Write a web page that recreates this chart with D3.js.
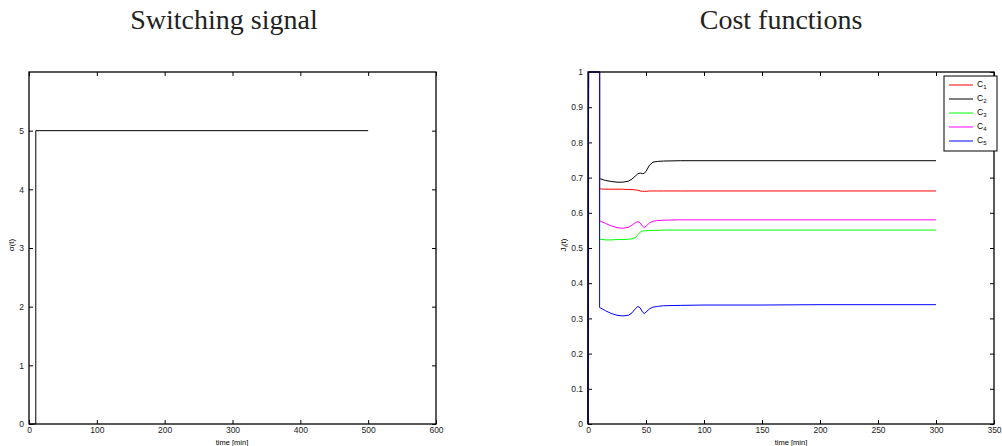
<!DOCTYPE html>
<html>
<head>
<meta charset="utf-8">
<script src="https://cdn.jsdelivr.net/npm/d3@7"></script>
<style>
  body { margin: 0; background: #fff; }
  svg { display: block; }
  .tick text { font-family: "Liberation Sans", Arial, sans-serif; font-size: 8.5px; fill: #222; }
</style>
</head>
<body>
<div id="chart"></div>
<script>
// switching signal
const sigTime = [0, 10, 10, 500];
const sigValue = [0, 0, 5, 5];
const sigXTicks = [0, 100, 200, 300, 400, 500, 600];
const sigYTicks = [0, 1, 2, 3, 4, 5];

// cost functions, shared time grid
const costTime = [0, 0.5, 10, 10, 15, 20, 25, 30, 35, 38, 41, 43, 45, 47, 48.5, 50, 53, 56, 60, 65, 80, 100, 150, 200, 300];
const c1 = [0, 1, 1, 0.668, 0.667, 0.667, 0.667, 0.667, 0.666, 0.666, 0.665, 0.664, 0.662, 0.661, 0.661, 0.661, 0.662, 0.662, 0.662, 0.662, 0.662, 0.662, 0.662, 0.662, 0.662];
const c2 = [0, 1, 1, 0.697, 0.692, 0.689, 0.687, 0.687, 0.690, 0.696, 0.705, 0.711, 0.713, 0.711, 0.712, 0.718, 0.735, 0.744, 0.746, 0.747, 0.748, 0.748, 0.748, 0.748, 0.748];
const c3 = [0, 1, 1, 0.525, 0.523, 0.523, 0.524, 0.524, 0.525, 0.526, 0.530, 0.538, 0.545, 0.548, 0.549, 0.549, 0.550, 0.550, 0.550, 0.551, 0.551, 0.551, 0.551, 0.551, 0.551];
const c4 = [0, 1, 1, 0.577, 0.570, 0.563, 0.558, 0.556, 0.559, 0.565, 0.572, 0.575, 0.571, 0.562, 0.558, 0.562, 0.571, 0.576, 0.578, 0.579, 0.580, 0.580, 0.580, 0.580, 0.580];
const c5 = [0, 1, 1, 0.331, 0.322, 0.314, 0.309, 0.307, 0.309, 0.316, 0.328, 0.334, 0.330, 0.318, 0.314, 0.318, 0.327, 0.332, 0.334, 0.336, 0.337, 0.338, 0.338, 0.339, 0.339];
const costNames = ["1", "2", "3", "4", "5"];
const costColors = ["#ff0000", "#000000", "#00ff00", "#ff00ff", "#0000ff"];
const costXTicks = [0, 50, 100, 150, 200, 250, 300, 350];
const costYTicks = [0, 0.1, 0.2, 0.3, 0.4, 0.5, 0.6, 0.7, 0.8, 0.9, 1];

const W = 1002, H = 446;
const svg = d3.select("#chart").append("svg").attr("width", W).attr("height", H);

// draws a matlab style box with inward ticks on all 4 sides
function panel(x0, x1, y0, y1, xDom, yDom, xTicks, yTicks, yFmt) {
  const x = d3.scaleLinear().domain(xDom).range([x0, x1]);
  const y = d3.scaleLinear().domain(yDom).range([y1, y0]);
  const g = svg.append("g");

  g.append("g").attr("transform", `translate(0,${y1})`)
    .call(d3.axisBottom(x).tickValues(xTicks).tickSizeInner(-4).tickSizeOuter(0).tickPadding(3).tickFormat(d3.format("d")))
    .call(a => a.select(".domain").remove());
  g.append("g").attr("transform", `translate(0,${y0})`)
    .call(d3.axisTop(x).tickValues(xTicks).tickSizeInner(-4).tickSizeOuter(0).tickFormat(""))
    .call(a => a.select(".domain").remove());
  g.append("g").attr("transform", `translate(${x0},0)`)
    .call(d3.axisLeft(y).tickValues(yTicks).tickSizeInner(-4).tickSizeOuter(0).tickPadding(5).tickFormat(yFmt))
    .call(a => a.select(".domain").remove());
  g.append("g").attr("transform", `translate(${x1},0)`)
    .call(d3.axisRight(y).tickValues(yTicks).tickSizeInner(-4).tickSizeOuter(0).tickFormat(""))
    .call(a => a.select(".domain").remove());
  g.selectAll(".tick line").attr("stroke", "#000");

  return {x, y, g};
}

function frame(x0, x1, y0, y1) {
  svg.append("rect")
    .attr("x", x0).attr("y", y0).attr("width", x1 - x0).attr("height", y1 - y0)
    .attr("fill", "none").attr("stroke", "#000").attr("stroke-width", 1.3);
}

function title(text, cx) {
  svg.append("text").attr("x", cx).attr("y", 29)
    .attr("text-anchor", "middle")
    .style("font-family", "'Liberation Serif', 'DejaVu Serif', serif")
    .style("font-size", "28px").attr("fill", "#222")
    .text(text);
}

const labelFont = "'Liberation Sans', Arial, sans-serif";

// ---- left: switching signal
const L = panel(29, 436, 72, 424, [0, 600], [0, 6], sigXTicks, sigYTicks, d3.format("d"));
L.g.append("path")
  .datum(sigTime.map((t, i) => [t, sigValue[i]]))
  .attr("fill", "none").attr("stroke", "#000").attr("stroke-width", 1)
  .attr("d", d3.line().x(d => L.x(d[0])).y(d => L.y(d[1])));
frame(29, 436, 72, 424);
title("Switching signal", 224);
svg.append("text").attr("x", 232).attr("y", 445).attr("text-anchor", "middle")
  .style("font-family", labelFont).style("font-size", "7.5px").text("time [min]");
svg.append("text").attr("transform", "translate(14,245) rotate(-90)").attr("text-anchor", "middle")
  .style("font-family", labelFont).style("font-size", "8px").text("σ(t)");

// ---- right: cost functions
const R = panel(588, 994, 72, 424, [0, 350], [0, 1], costXTicks, costYTicks, d => d === 0 || d === 1 ? d3.format("d")(d) : d3.format(".1f")(d));
const series = [c1, c2, c3, c4, c5];
const line = d3.line().x(d => R.x(d[0])).y(d => R.y(d[1]));
series.forEach((vals, k) => {
  R.g.append("path")
    .datum(costTime.map((t, i) => [t, vals[i]]))
    .attr("fill", "none").attr("stroke", costColors[k]).attr("stroke-width", 1)
    .attr("d", line);
});
frame(588, 994, 72, 424);
title("Cost functions", 781);
svg.append("text").attr("x", 791).attr("y", 445).attr("text-anchor", "middle")
  .style("font-family", labelFont).style("font-size", "7.5px").text("time [min]");
const jl = svg.append("text").attr("transform", "translate(566,245) rotate(-90)").attr("text-anchor", "middle")
  .style("font-family", labelFont).style("font-size", "8px");
jl.append("tspan").text("J");
jl.append("tspan").attr("dy", 2).style("font-size", "6px").text("i");
jl.append("tspan").attr("dy", -2).text("(t)");

// legend
const leg = svg.append("g");
leg.append("rect").attr("x", 944).attr("y", 76).attr("width", 53).attr("height", 75)
  .attr("fill", "#fff").attr("stroke", "#000").attr("stroke-width", 1);
costNames.forEach((n, k) => {
  const yy = 85 + k * 14;
  leg.append("line").attr("x1", 949).attr("x2", 973).attr("y1", yy).attr("y2", yy)
    .attr("stroke", costColors[k]).attr("stroke-width", 1);
  const t = leg.append("text").attr("x", 977).attr("y", yy + 2)
    .style("font-family", labelFont).style("font-size", "8.5px");
  t.append("tspan").text("C");
  t.append("tspan").attr("dy", 2).style("font-size", "6px").text(n);
});
</script>
</body>
</html>
